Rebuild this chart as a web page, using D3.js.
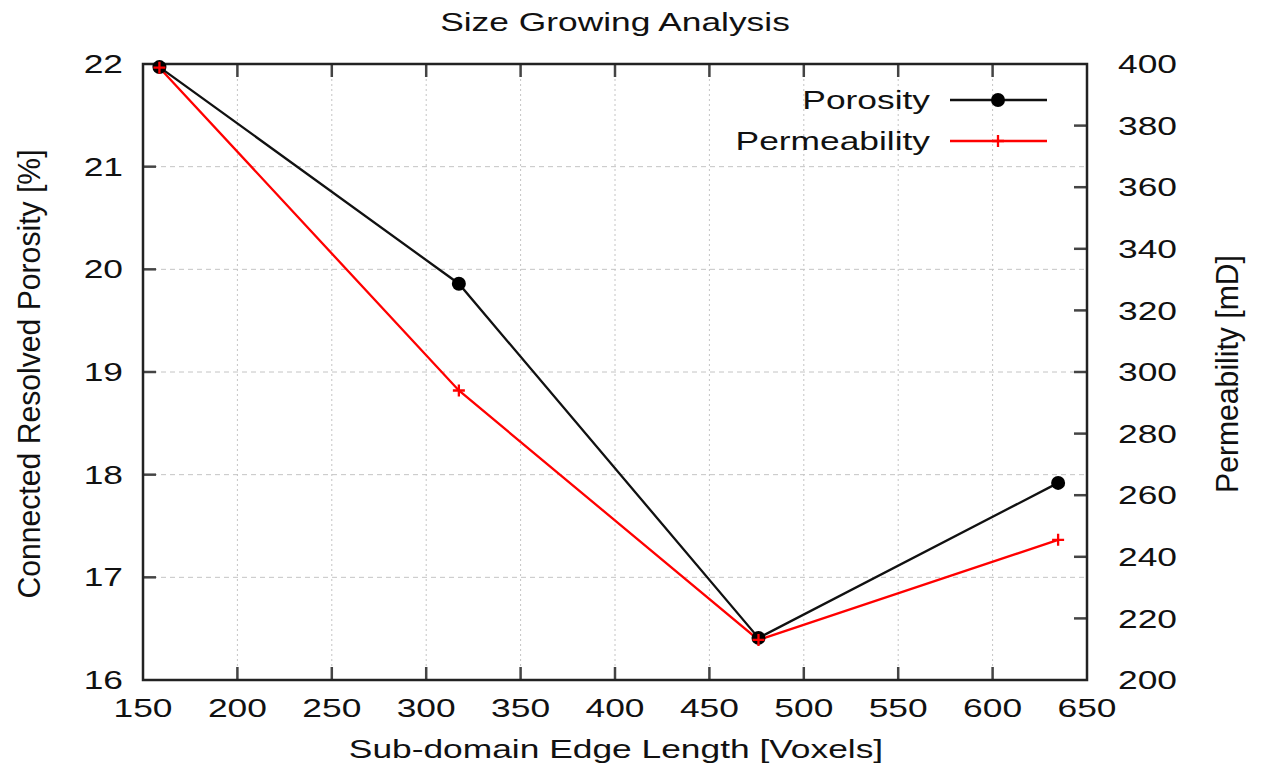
<!DOCTYPE html>
<html>
<head>
<meta charset="utf-8">
<script src="https://cdn.jsdelivr.net/npm/d3@7"></script>
<style>
  body { margin: 0; background: #fff; }
  svg text { font-family: "Liberation Sans", Arial, sans-serif; fill: #111; }
  .grid line { stroke: #c4c4c4; stroke-width: 1; }
</style>
</head>
<body>
<div id="chart"></div>
<script>
// values
var edgeLength = [158.7, 317.3, 476, 634.7];
var porosity = [21.97, 19.86, 16.41, 17.92];
var permeability = [398.8, 294, 213, 245.5];
var xTicks = [150, 200, 250, 300, 350, 400, 450, 500, 550, 600, 650];
var yTicks = [16, 17, 18, 19, 20, 21, 22];
var y2Ticks = [200, 220, 240, 260, 280, 300, 320, 340, 360, 380, 400];
var seriesNames = ["Porosity", "Permeability"];

var W = 1262, H = 771,
  m = { top: 64, right: 175, bottom: 91, left: 143 },
  width = W - m.left - m.right,
  height = H - m.top - m.bottom,
  sx = 1.36; // glyphs in the picture are stretched sideways

var svg = d3.select("#chart").append("svg")
  .attr("width", W).attr("height", H);
var g = svg.append("g")
  .attr("transform", "translate(" + m.left + "," + m.top + ")");

var x = d3.scaleLinear().domain([150, 650]).range([0, width]);
var y = d3.scaleLinear().domain([16, 22]).range([height, 0]);
var y2 = d3.scaleLinear().domain([200, 400]).range([height, 0]);

// stretched text helper
function label(parent, px, py, str, anchor, rot) {
  var sc = rot ? "scale(1.16,1.22)" : "scale(" + sx + ",1)";
  var t = parent.append("g")
    .attr("transform", "translate(" + px + "," + py + ")" + (rot ? " rotate(" + rot + ")" : "") + " " + sc);
  t.append("text")
    .attr("text-anchor", anchor || "middle")
    .attr("dy", "0.35em")
    .style("font-size", "26px")
    .text(str);
  return t;
}

/* grid */
g.append("g").attr("class", "grid")
  .selectAll("line").data(xTicks.slice(1, -1)).enter().append("line")
  .attr("x1", d => x(d)).attr("x2", d => x(d))
  .attr("y1", 0).attr("y2", height)
  .attr("stroke-dasharray", "2,3");
g.append("g").attr("class", "grid")
  .selectAll("line").data(yTicks.slice(1, -1)).enter().append("line")
  .attr("x1", 0).attr("x2", width)
  .attr("y1", d => y(d)).attr("y2", d => y(d))
  .attr("stroke-dasharray", "5,4");

/* inward ticks */
var tk = g.append("g").attr("stroke", "#444").attr("stroke-width", 2.5);
tk.selectAll(".xb").data(xTicks.slice(1, -1)).enter().append("line")
  .attr("x1", d => x(d)).attr("x2", d => x(d)).attr("y1", height).attr("y2", height - 13);
tk.selectAll(".xt").data(xTicks.slice(1, -1)).enter().append("line")
  .attr("x1", d => x(d)).attr("x2", d => x(d)).attr("y1", 0).attr("y2", 13);
tk.selectAll(".yl").data(yTicks.slice(1, -1)).enter().append("line")
  .attr("x1", 0).attr("x2", 13).attr("y1", d => y(d)).attr("y2", d => y(d));
tk.selectAll(".yr").data(y2Ticks.slice(1, -1)).enter().append("line")
  .attr("x1", width).attr("x2", width - 13).attr("y1", d => y2(d)).attr("y2", d => y2(d));

/* frame */
g.append("rect")
  .attr("width", width).attr("height", height)
  .attr("fill", "none").attr("stroke", "#222").attr("stroke-width", 2.5);

/* tick labels */
xTicks.forEach(function(d) { label(g, x(d), height + 28, d, "middle"); });
yTicks.forEach(function(d) { label(g, -20, y(d), d, "end"); });
y2Ticks.forEach(function(d) { label(g, width + 31, y2(d), d, "start"); });

/* titles */
label(svg, 615, 22, "Size Growing Analysis");
label(svg, 616, 749, "Sub-domain Edge Length [Voxels]");
label(svg, 29, 374, "Connected Resolved Porosity [%]", "middle", -90);
label(svg, 1227, 374, "Permeability [mD]", "middle", -90);

/* series */
var por = edgeLength.map((d, i) => [d, porosity[i]]);
var perm = edgeLength.map((d, i) => [d, permeability[i]]);

g.append("path").datum(perm)
  .attr("fill", "none").attr("stroke", "#ff0000").attr("stroke-width", 2.3)
  .attr("d", d3.line().x(d => x(d[0])).y(d => y2(d[1])));
g.append("path").datum(por)
  .attr("fill", "none").attr("stroke", "#111").attr("stroke-width", 2.3)
  .attr("d", d3.line().x(d => x(d[0])).y(d => y(d[1])));

g.selectAll("circle.por").data(por).enter().append("circle")
  .attr("cx", d => x(d[0])).attr("cy", d => y(d[1])).attr("r", 7).attr("fill", "#000");

g.selectAll("path.perm").data(perm).enter().append("path")
  .attr("transform", d => "translate(" + x(d[0]) + "," + y2(d[1]) + ")")
  .attr("d", "M-6,0H6M0,-6V6")
  .attr("stroke", "#ff0000").attr("stroke-width", 2.3);

/* legend */
var lg = svg.append("g");
[0, 1].forEach(function(i) {
  var ly = 100 + i * 41;
  label(lg, 930, ly, seriesNames[i], "end");
  var col = i === 0 ? "#111" : "#ff0000";
  lg.append("line").attr("x1", 950).attr("x2", 1047).attr("y1", ly).attr("y2", ly)
    .attr("stroke", col).attr("stroke-width", 2.3);
  if (i === 0) {
    lg.append("circle").attr("cx", 998).attr("cy", ly).attr("r", 7).attr("fill", "#000");
  } else {
    lg.append("path").attr("transform", "translate(998," + ly + ")")
      .attr("d", "M-6,0H6M0,-6V6").attr("stroke", "#ff0000").attr("stroke-width", 2.3);
  }
});
</script>
</body>
</html>
